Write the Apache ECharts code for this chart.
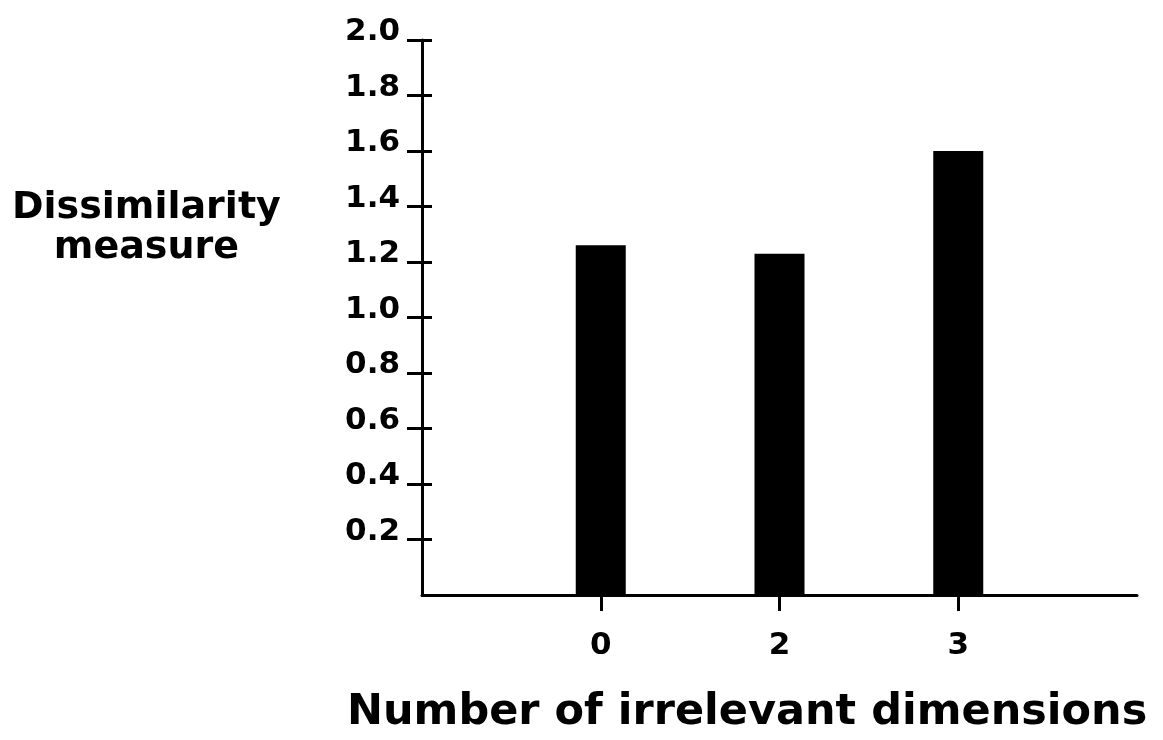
<!DOCTYPE html>
<html>
<head>
<meta charset="utf-8">
<script src="https://cdn.jsdelivr.net/npm/echarts@6/dist/echarts.min.js"></script>
<style>
html,body{margin:0;padding:0;background:#fff;}
#chart{width:1163px;height:740px;}
</style>
</head>
<body>
<div id="chart"></div>
<script>
var categories = ['0', '2', '3'];
var dissimilarity = [1.26, 1.23, 1.6];
var yTickLabels = ['0.2','0.4','0.6','0.8','1.0','1.2','1.4','1.6','1.8','2.0'];
var xTitle = 'Number of irrelevant dimensions';
var yTitle = 'Dissimilarity\nmeasure';

var axisData = [''].concat(categories, ['']);
var seriesData = [null].concat(dissimilarity, [null]);
var FONT = 'DejaVu Sans';

var chart = echarts.init(document.getElementById('chart'));
chart.setOption({
  backgroundColor: '#fff',
  animation: false,
  grid: { left: 422, right: 26, top: 40, bottom: 145 },
  xAxis: {
    type: 'category',
    data: axisData,
    boundaryGap: false,
    axisLine: { lineStyle: { color: '#000', width: 3 } },
    axisTick: {
      length: 16,
      lineStyle: { color: '#000', width: 3 },
      interval: function (idx, val) { return val !== ''; }
    },
    axisLabel: {
      interval: 0,
      margin: 35,
      color: '#000',
      fontFamily: FONT,
      fontWeight: 'bold',
      fontSize: 31
    },
    splitLine: { show: false }
  },
  yAxis: [{
    type: 'value',
    min: 0,
    max: 2.0,
    interval: 0.2,
    axisLine: { show: true, lineStyle: { color: '#000', width: 3 } },
    axisTick: { show: true, length: 15, lineStyle: { color: '#000', width: 3 } },
    axisLabel: {
      showMinLabel: false,
      margin: 22,
      color: '#000',
      fontFamily: FONT,
      fontWeight: 'bold',
      fontSize: 31,
      verticalAlign: 'bottom',
      lineHeight: 16,
      formatter: function (v) {
        var i = Math.round(v / 0.2) - 1;
        return i >= 0 ? yTickLabels[i] : '';
      }
    },
    splitLine: { show: false }
  }, {
    type: 'value',
    min: 0,
    max: 2.0,
    interval: 0.2,
    position: 'left',
    axisLine: { show: false },
    axisTick: { show: true, inside: true, length: 10, lineStyle: { color: '#000', width: 3 } },
    axisLabel: { show: false },
    splitLine: { show: false }
  }],
  series: [{
    type: 'bar',
    data: seriesData,
    barWidth: 50,
    itemStyle: { color: '#000' }
  }],
  graphic: [{
    type: 'text',
    left: 12,
    top: 188,
    style: {
      text: yTitle,
      font: 'bold 38px "DejaVu Sans"',
      fill: '#000',
      textAlign: 'center',
      lineHeight: 40
    }
  }, {
    type: 'text',
    left: 347,
    top: 691,
    style: {
      text: xTitle,
      font: 'bold 43px "DejaVu Sans"',
      fill: '#000'
    }
  }]
});
</script>
</body>
</html>
